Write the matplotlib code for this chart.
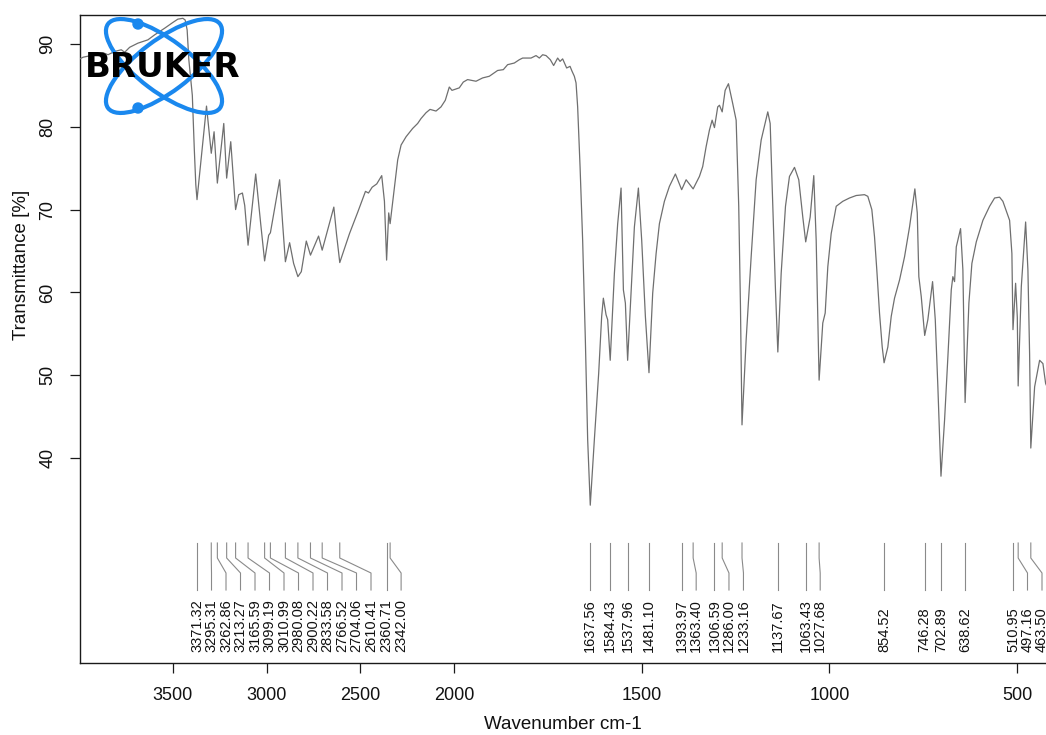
import numpy as np
import matplotlib
matplotlib.use("Agg")
import matplotlib.pyplot as plt
from matplotlib.patches import Ellipse, Circle
from matplotlib.scale import FuncScale
from matplotlib.ticker import FixedLocator
import matplotlib.transforms as mtransforms

plt.rcParams['font.family'] = ['Liberation Sans', 'DejaVu Sans']

# ---------------- data ----------------
wavenumber = [3996, 3978.7, 3916.5, 3872.3, 3845.7, 3810.1, 3775.0, 3756.9, 3730.3, 3686.2,
              3659.6, 3633.0, 3597.3, 3544.1, 3500, 3473.4, 3446.8, 3434.6, 3423.9, 3414.9,
              3396.3, 3385.6, 3377.7, 3371.3, 3320.7, 3295.3, 3280.3, 3262.9, 3228.7, 3213.3,
              3191.5, 3165.6, 3148.9, 3129.3, 3117.0, 3099.2, 3058.5, 3031.9, 3011.0, 2989.4,
              2980.1, 2930.9, 2914.9, 2900.2, 2877.7, 2856.4, 2833.6, 2815.4, 2788.8, 2766.5,
              2723.4, 2704.1, 2675.5, 2642.0, 2627.6, 2610.4, 2558.5, 2514.4, 2473.4, 2457.4,
              2437.8, 2413.3, 2386.7, 2372.3, 2360.7, 2349.5, 2342.0, 2324.5, 2301.6, 2283.5,
              2256.9, 2221.8, 2195.2, 2177.1, 2150.5, 2129.3, 2097.4, 2070.8, 2047.9, 2026.6,
              2012.2, 1986.7, 1976.0, 1964.5, 1942.1, 1924.5, 1906.7, 1884.5, 1869.3, 1857.9,
              1840.0, 1826.7, 1817.9, 1795.5, 1782.1, 1773.3, 1764.5, 1755.5, 1744.0, 1735.2,
              1724.5, 1718.1, 1711.2, 1700.5, 1691.5, 1686.1, 1680.0, 1675.5, 1671.2, 1664.8,
              1657.9, 1650.7, 1644.5, 1637.6, 1626.7, 1615.2, 1607.2, 1602.7, 1595.5, 1591.2,
              1584.4, 1573.3, 1564.5, 1555.5, 1549.3, 1544.0, 1538.0, 1528.8, 1520.0, 1509.3,
              1500.5, 1490.7, 1481.1, 1471.2, 1462.1, 1453.3, 1440.0, 1426.7, 1410.7, 1394.0,
              1382.1, 1363.4, 1346.7, 1337.9, 1328.8, 1320.0, 1312.8, 1306.6, 1297.9, 1293.3,
              1286.0, 1278.1, 1269.3, 1257.9, 1248.8, 1241.9, 1237.3, 1233.2, 1222.1, 1208.8,
              1195.5, 1182.1, 1164.5, 1158.1, 1151.2, 1144.0, 1137.7, 1128.8, 1117.3, 1106.7,
              1093.3, 1081.9, 1071.2, 1063.4, 1051.5, 1041.9, 1035.5, 1027.7, 1017.9, 1011.5,
              1004.5, 995.5, 982.1, 964.5, 946.7, 928.8, 906.7, 897.9, 887.2, 880.0,
              873.9, 866.7, 859.5, 854.5, 844.5, 835.5, 826.7, 813.3, 800.0, 786.7,
              772.5, 766.1, 761.9, 755.5, 746.3, 737.9, 725.3, 718.1, 711.2, 702.9,
              693.3, 684.5, 675.5, 671.2, 666.7, 662.1, 650.7, 644.5, 638.6, 628.5,
              620.5, 608.8, 591.2, 573.3, 560.0, 546.7, 537.9, 520.0, 513.9, 511.0,
              504.0, 499.5, 497.2, 488.8, 477.3, 471.2, 466.7, 463.5, 453.3, 440.0,
              431.2, 424.0, 410.0]
transmittance = [88.2, 88.4, 88.7, 88.95, 88.7, 89.1, 89.3, 89.0, 89.6, 90.1,
                 90.3, 90.5, 91.1, 91.9, 92.6, 93.0, 93.1, 92.9, 91.7, 88.1,
                 83.8, 77.2, 73.0, 71.2, 82.5, 76.8, 79.4, 73.2, 80.4, 73.8,
                 78.2, 70.0, 71.8, 72.0, 70.5, 65.7, 74.3, 68.3, 63.8, 66.9,
                 67.2, 73.6, 68.3, 63.7, 66.0, 63.5, 61.9, 62.5, 66.2, 64.5,
                 66.8, 65.1, 67.5, 70.3, 67.0, 63.6, 67.1, 69.7, 72.2, 72.0,
                 72.7, 73.1, 74.1, 71.0, 63.9, 69.6, 68.3, 71.6, 76.0, 77.8,
                 78.8, 79.8, 80.4, 81.0, 81.7, 82.1, 81.9, 82.4, 83.2, 84.8,
                 84.4, 84.7, 85.4, 85.7, 85.5, 85.9, 86.1, 86.8, 86.9, 87.5,
                 87.7, 88.1, 88.3, 88.3, 88.6, 88.3, 88.7, 88.6, 88.1, 87.4,
                 88.3, 87.9, 88.2, 87.1, 87.3, 86.7, 86.1, 85.3, 82.4, 75.2,
                 66.3, 54.3, 42.2, 34.3, 42.2, 50.2, 57.1, 59.3, 57.3, 56.7,
                 51.8, 62.3, 68.3, 72.6, 60.3, 58.7, 51.8, 59.9, 67.9, 72.6,
                 66.3, 57.1, 50.3, 59.9, 64.7, 68.3, 71.0, 72.8, 74.3, 72.4,
                 73.6, 72.5, 74.0, 75.2, 77.6, 79.6, 80.8, 79.9, 82.4, 82.6,
                 81.8, 84.4, 85.2, 82.8, 80.8, 70.4, 58.3, 44.0, 54.3, 64.3,
                 73.6, 78.4, 81.8, 80.4, 70.4, 60.3, 52.8, 62.3, 70.4, 74.0,
                 75.1, 73.6, 69.1, 66.1, 69.1, 74.1, 66.3, 49.4, 56.3, 57.5,
                 63.1, 67.1, 70.4, 71.0, 71.4, 71.7, 71.8, 71.6, 70.0, 66.7,
                 62.7, 57.5, 53.4, 51.5, 53.4, 57.1, 59.3, 61.5, 64.3, 67.9,
                 72.5, 69.6, 61.9, 59.5, 54.8, 56.7, 61.3, 56.7, 48.6, 37.8,
                 44.6, 52.2, 60.3, 61.9, 61.3, 65.5, 67.7, 62.7, 46.7, 58.7,
                 63.5, 66.1, 68.7, 70.4, 71.4, 71.5, 71.0, 68.7, 64.7, 55.5,
                 61.1, 57.0, 48.7, 60.7, 68.5, 62.7, 52.6, 41.2, 48.6, 51.8,
                 51.4, 49.0, 47.5]

peak_positions = [3371.32, 3295.31, 3262.86, 3213.27, 3165.59, 3099.19, 3010.99, 2980.08,
                  2900.22, 2833.58, 2766.52, 2704.06, 2610.41, 2360.71, 2342.00,
                  1637.56, 1584.43, 1537.96, 1481.10, 1393.97, 1363.40, 1306.59, 1286.00,
                  1233.16, 1137.67, 1063.43, 1027.68, 854.52, 746.28, 702.89, 638.62,
                  510.95, 497.16, 463.50]

x_ticks = [3500, 3000, 2500, 2000, 1500, 1000, 500]
y_ticks = [40, 50, 60, 70, 80, 90]

# ---------------- figure ----------------
W, H = 1046, 735
fig = plt.figure(figsize=(W / 100, H / 100), dpi=100)
ax = fig.add_axes([80 / W, 1 - 663 / H, 1 - 80 / W, (663 - 15) / H])


def fwd(x):
    x = np.asarray(x, dtype=float)
    return np.where(x >= 2000, 2000 + (x - 2000) / 2.0, x)


def inv(u):
    u = np.asarray(u, dtype=float)
    return np.where(u >= 2000, 2000 + (u - 2000) * 2.0, u)


ax.set_xscale(FuncScale(ax, (fwd, inv)))
ax.plot(wavenumber, transmittance, color='#6f6f6f', lw=0.9, zorder=3)
ax.set_xlim(3995, 423)
ax.set_ylim(15.24, 93.5)

ax.xaxis.set_major_locator(FixedLocator(x_ticks))
ax.xaxis.set_minor_locator(FixedLocator([]))
ax.set_xticklabels([str(t) for t in x_ticks])
ax.yaxis.set_major_locator(FixedLocator(y_ticks))
ax.set_yticklabels([str(t) for t in y_ticks])

ax.spines['right'].set_visible(False)
for s in ['top', 'left', 'bottom']:
    ax.spines[s].set_color('#1a1a1a')
    ax.spines[s].set_linewidth(1.0)

ax.tick_params(axis='both', direction='out', length=7, width=0.9, color='#1a1a1a',
               labelsize=13, pad=10, labelcolor='#111111')
for lab in ax.get_yticklabels():
    lab.set_rotation(90)
    lab.set_va('center')
    lab.set_ha('right')

ax.set_xlabel('Wavenumber cm-1', fontsize=13.5, labelpad=9, color='#111111')
ax.set_ylabel('Transmittance [%]', fontsize=13.5, color='#111111')
ax.yaxis.set_label_coords((30 - 80) / 966, (663 - 265) / 648)

# ---------------- peak annotations ----------------
trans = mtransforms.blended_transform_factory(ax.transData, ax.transAxes)
ax_h = 663 - 15


def yfrac(py):
    return (663 - py) / ax_h


peak_px = [ax.transData.transform((p, 50))[0] for p in peak_positions]
label_px = []
for px in peak_px:
    if label_px:
        px = max(px, label_px[-1] + 14.5)
    label_px.append(px)
label_wn = [ax.transData.inverted().transform((lp, 0))[0] for lp in label_px]

y_top, y_k1, y_k2, y_bot, y_txt = yfrac(543), yfrac(558), yfrac(573), yfrac(590), yfrac(652)
for p, lw_, in zip(peak_positions, label_wn):
    ax.plot([p, p, lw_, lw_], [y_top, y_k1, y_k2, y_bot], transform=trans,
            color='#8a8a8a', lw=0.8, clip_on=False, zorder=2)
    ax.text(lw_, y_txt, f"{p:.2f}", transform=trans, rotation=90, ha='center',
            va='bottom', fontsize=10.5, color='#111111', clip_on=False)

# ---------------- Bruker logo ----------------
lax = fig.add_axes([0, 0, 1, 1], zorder=5)
lax.set_xlim(0, W)
lax.set_ylim(H, 0)
lax.axis('off')
blue = '#1a88ee'
cx, cy = 164, 66
for ang in (37, -37):
    lax.add_patch(Ellipse((cx, cy), 140, 52, angle=ang, fill=False, ec=blue, lw=3.0))
lax.add_patch(Circle((138, 24), 5, color=blue))
lax.add_patch(Circle((138, 108), 5, color=blue))
lax.text(163, 67, 'BRUKER', ha='center', va='center', fontsize=24.5, fontweight='heavy',
         color='black', family=['DejaVu Sans'])

fig.savefig('out.png', dpi=100)
